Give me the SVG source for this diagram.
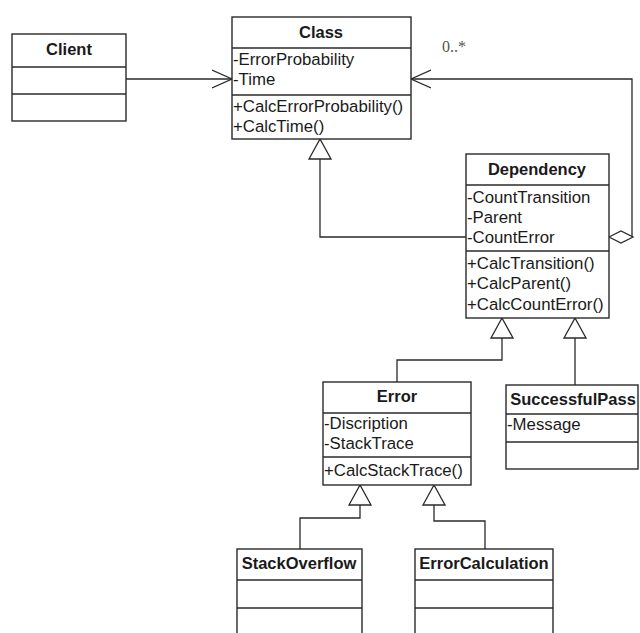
<svg xmlns="http://www.w3.org/2000/svg" width="640" height="633" viewBox="0 0 640 633">
<style>
.box{fill:#fff;stroke:#2a2a2a;stroke-width:1.4}
.div{stroke:#2a2a2a;stroke-width:1.4}
.hd{font-family:"Liberation Sans",Arial,sans-serif;font-size:16.5px;font-weight:bold;fill:#1a1a1a;text-anchor:middle}
.t{font-family:"Liberation Sans",Arial,sans-serif;font-size:16.8px;fill:#1a1a1a}
.c{fill:none;stroke:#2a2a2a;stroke-width:1.3}
.m{font-family:"Liberation Serif","Times New Roman",serif;font-size:16px;fill:#555}
</style>
<defs>
<marker id="open" markerUnits="userSpaceOnUse" viewBox="0 0 21 20" refX="20" refY="10" markerWidth="21" markerHeight="20" orient="auto">
<path d="M0,1 L20,10 L0,19" fill="none" stroke="#2a2a2a" stroke-width="1.3"/>
</marker>
<marker id="gen" markerUnits="userSpaceOnUse" viewBox="-1 -1 22 24" refX="20" refY="11" markerWidth="22" markerHeight="24" orient="auto">
<path d="M0,0 L20,11 L0,22 Z" fill="#fff" stroke="#2a2a2a" stroke-width="1.3"/>
</marker>
</defs>
<rect width="640" height="633" fill="#fff"/>

<g id="connectors">
<path class="c" d="M126,79 H232" marker-end="url(#open)"/>
<path class="c" d="M632,237 V79 H411" marker-end="url(#open)"/>
<polygon points="609,237 621,231 633,237 621,243" fill="#fff" stroke="#2a2a2a" stroke-width="1.3"/>
<text class="m" x="442" y="52">0..*</text>
<path class="c" d="M466,237 H320 V139" marker-end="url(#gen)"/>
<path class="c" d="M397,382 V360 H502 V318" marker-end="url(#gen)"/>
<path class="c" d="M575,385 V318" marker-end="url(#gen)"/>
<path class="c" d="M300,549 V518 H360 V485" marker-end="url(#gen)"/>
<path class="c" d="M485,549 V521 H434 V485" marker-end="url(#gen)"/>
</g>

<g id="client">
<rect class="box" x="12" y="34" width="114" height="87"/>
<line class="div" x1="12" y1="67" x2="126" y2="67"/>
<line class="div" x1="12" y1="94" x2="126" y2="94"/>
<text class="hd" x="69" y="55">Client</text>
</g>

<g id="class">
<rect class="box" x="232" y="17" width="179" height="122"/>
<line class="div" x1="232" y1="48" x2="411" y2="48"/>
<line class="div" x1="232" y1="95" x2="411" y2="95"/>
<text class="hd" x="321" y="38">Class</text>
<text class="t" x="233" y="65">-ErrorProbability</text>
<text class="t" x="233" y="85">-Time</text>
<text class="t" x="233" y="112">+CalcErrorProbability()</text>
<text class="t" x="233" y="132">+CalcTime()</text>
</g>

<g id="dependency">
<rect class="box" x="466" y="154" width="143" height="164"/>
<line class="div" x1="466" y1="185" x2="609" y2="185"/>
<line class="div" x1="466" y1="251" x2="609" y2="251"/>
<text class="hd" x="537" y="175">Dependency</text>
<text class="t" x="467" y="203">-CountTransition</text>
<text class="t" x="467" y="223">-Parent</text>
<text class="t" x="467" y="243">-CountError</text>
<text class="t" x="467" y="269">+CalcTransition()</text>
<text class="t" x="467" y="289">+CalcParent()</text>
<text class="t" x="467" y="310">+CalcCountError()</text>
</g>

<g id="error">
<rect class="box" x="323" y="382" width="148" height="103"/>
<line class="div" x1="323" y1="413" x2="471" y2="413"/>
<line class="div" x1="323" y1="457" x2="471" y2="457"/>
<text class="hd" x="397" y="402">Error</text>
<text class="t" x="324" y="429">-Discription</text>
<text class="t" x="324" y="449">-StackTrace</text>
<text class="t" x="324" y="476">+CalcStackTrace()</text>
</g>

<g id="successfulpass">
<rect class="box" x="506" y="385" width="132" height="84"/>
<line class="div" x1="506" y1="414" x2="638" y2="414"/>
<line class="div" x1="506" y1="442" x2="638" y2="442"/>
<text class="hd" x="573" y="405">SuccessfulPass</text>
<text class="t" x="507" y="430">-Message</text>
</g>

<g id="stackoverflow">
<rect class="box" x="237" y="549" width="125" height="100"/>
<line class="div" x1="237" y1="580" x2="362" y2="580"/>
<line class="div" x1="237" y1="608" x2="362" y2="608"/>
<text class="hd" x="299" y="569">StackOverflow</text>
</g>

<g id="errorcalculation">
<rect class="box" x="415" y="549" width="138" height="100"/>
<line class="div" x1="415" y1="580" x2="553" y2="580"/>
<line class="div" x1="415" y1="608" x2="553" y2="608"/>
<text class="hd" x="484" y="569">ErrorCalculation</text>
</g>
</svg>
